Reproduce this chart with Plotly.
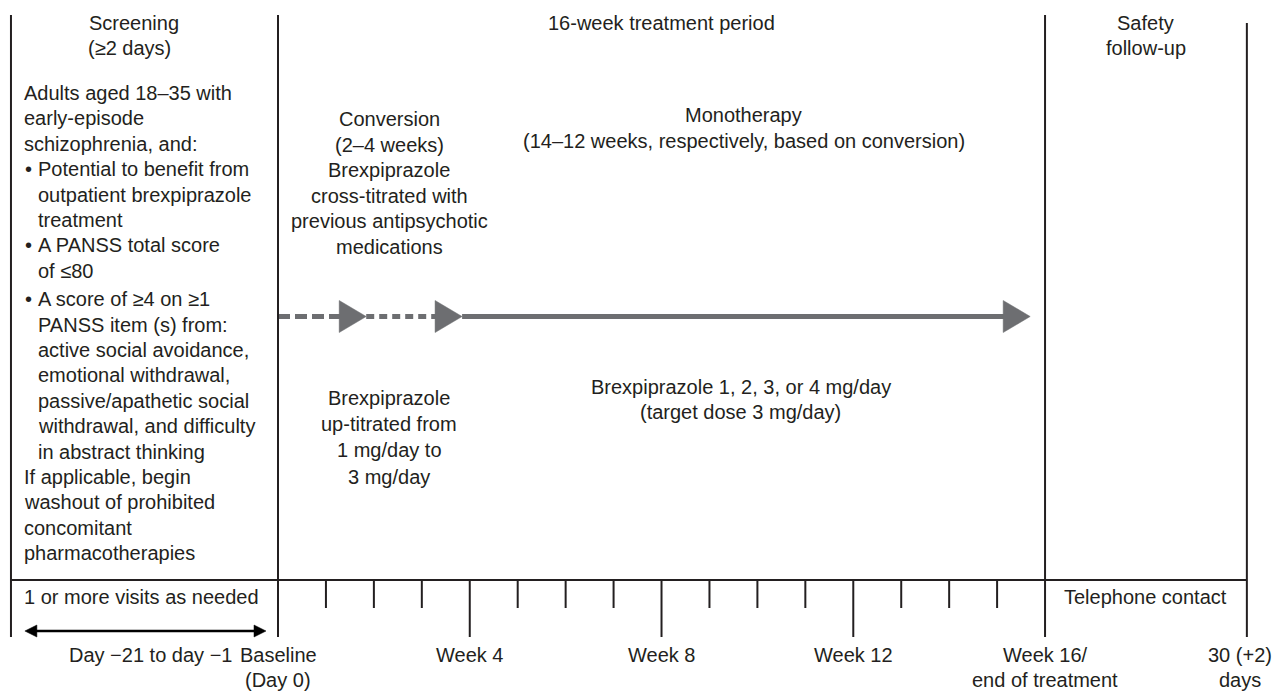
import plotly.graph_objects as go

# ---------------- data ----------------
weeks = list(range(0, 17))                 # visit grid, weeks from baseline
major_weeks = [4, 8, 12]                   # long tick marks
week_labels = {
    0: ["Baseline", "(Day 0)"],
    4: ["Week 4"],
    8: ["Week 8"],
    12: ["Week 12"],
    16: ["Week 16/", "end of treatment"],
}
screen_start = -5.57                       # left border of screening column (weeks scale)
followup_end = 20.21                       # right border (30 (+2) days)
followup_label = ["30 (+2)", "days"]

phase_titles = [
    (["Screening", "(≥2 days)"], [-3.0, -3.09]),
    (["16-week treatment period"], [8.0]),
    (["Safety", "follow-up"], [18.1, 18.1]),
]

screening_lines = [
    ("", "Adults aged 18–35 with"),
    ("", "early-episode"),
    ("", "schizophrenia, and:"),
    ("•", "Potential to benefit from"),
    ("", "outpatient brexpiprazole"),
    ("", "treatment"),
    ("•", "A PANSS total score"),
    ("", "of ≤80"),
    ("•", "A score of ≥4 on ≥1"),
    ("", "PANSS item (s) from:"),
    ("", "active social avoidance,"),
    ("", "emotional withdrawal,"),
    ("", "passive/apathetic social"),
    ("", "withdrawal, and difficulty"),
    ("", "in abstract thinking"),
    ("", "If applicable, begin"),
    ("", "washout of prohibited"),
    ("", "concomitant"),
    ("", "pharmacotherapies"),
]
indented = [False, False, False, True, True, True, True, True, True, True,
            True, True, True, True, True, False, False, False, False]

conversion_lines = ["Conversion", "(2–4 weeks)", "Brexpiprazole",
                    "cross-titrated with", "previous antipsychotic", "medications"]
monotherapy_lines = ["Monotherapy", "(14–12 weeks, respectively, based on conversion)"]
conversion_dose = ["Brexpiprazole", "up-titrated from", "1 mg/day to", "3 mg/day"]
monotherapy_dose = ["Brexpiprazole 1, 2, 3, or 4 mg/day", "(target dose 3 mg/day)"]

# arrow segments (weeks): start, end of shaft, tip, dash style
arrow_segments = [
    (0.0, 1.27, 1.84, "12px,5px"),
    (1.84, 3.27, 3.84, "8px,5px"),
    (3.84, 15.12, 15.69, "solid"),
]

screening_window = (-5.28, -0.25)
screening_window_label = "Day −21 to day −1"
screening_visits = "1 or more visits as needed"
followup_visits = "Telephone contact"

# ---------------- style ----------------
FONT = "Liberation Sans, Arial, Helvetica, sans-serif"
TXT = "#231f20"
LINE = "#231f20"
ARROW = "#6d6e71"
FS = 20
PX_PER_WEEK = 47.94
BASE_PX = 278
W, H = 1283, 693

fig = go.Figure()
shapes = []
ann = []


def vline(x, y0, y1, w=2):
    shapes.append(dict(type="line", xref="x", yref="y", x0=x, x1=x, y0=y0, y1=y1,
                       line=dict(color=LINE, width=w)))


def text(x, y, s, anchor="center"):
    ann.append(dict(x=x, y=y, xref="x", yref="y", text=s, showarrow=False,
                    xanchor=anchor, yanchor="middle",
                    font=dict(family=FONT, size=FS, color=TXT)))


# frame lines
vline(screen_start, 15, 637)
vline(0, 15, 637)
vline(16, 15, 637)
vline(followup_end, 23, 637)
shapes.append(dict(type="line", xref="x", yref="y", x0=screen_start, x1=followup_end,
                   y0=580, y1=580, line=dict(color=LINE, width=2)))

# week ticks
for wk in weeks[1:-1]:
    vline(wk, 580, 637 if wk in major_weeks else 608)

# phase titles
for lines, xs in phase_titles:
    for i, (s, xc) in enumerate(zip(lines, xs)):
        text(xc, 23 + i * 24.5, s)

# screening criteria
y = 93
for i, ((b, s), ind) in enumerate(zip(screening_lines, indented)):
    if i == 8:
        y += 3
    if b:
        text(-5.31, y, b, "left")
    text(-5.05 if ind else -5.33, y, s, "left")
    y += 25.4

# treatment texts
for i, s in enumerate(conversion_lines):
    text(2.32, 119 + i * 25.6, s)
for i, s in enumerate(monotherapy_lines):
    text(9.72, 115 + i * 26, s)
for i, s in enumerate(conversion_dose):
    text(2.32, 398 + i * 26.2, s)
for i, s in enumerate(monotherapy_dose):
    text(9.65, 387 + i * 25, s)

# arrows
head_w = 27 / PX_PER_WEEK
for x0, x1, tip, dash in arrow_segments:
    fig.add_trace(go.Scatter(x=[x0, x1 + 0.05], y=[316.5, 316.5], mode="lines",
                             line=dict(color=ARROW, width=5, dash=dash),
                             hoverinfo="skip", showlegend=False))
    fig.add_trace(go.Scatter(x=[tip - head_w, tip, tip - head_w, tip - head_w],
                             y=[300.5, 316.5, 332.5, 300.5], mode="lines",
                             fill="toself", fillcolor=ARROW, line=dict(color=ARROW, width=0.5),
                             hoverinfo="skip", showlegend=False))

# bottom band
text(-5.34, 597, screening_visits, "left")
text(18.1, 597, followup_visits)

# double arrow for screening window
a0, a1 = screening_window
hw = 12 / PX_PER_WEEK
fig.add_trace(go.Scatter(x=[a0 + hw * 0.5, a1 - hw * 0.5], y=[631, 631], mode="lines",
                         line=dict(color="#000000", width=2.5), hoverinfo="skip", showlegend=False))
for tip, d in [(a0, 1), (a1, -1)]:
    fig.add_trace(go.Scatter(x=[tip, tip + d * hw, tip + d * hw, tip],
                             y=[631, 625, 637, 631], mode="lines", fill="toself",
                             fillcolor="#000000", line=dict(color="#000000", width=0.5),
                             hoverinfo="skip", showlegend=False))
text((a0 + a1) / 2 + 0.1, 655, screening_window_label)

for wk, lines in week_labels.items():
    for i, s in enumerate(lines):
        text(wk, 655 + i * 24.5, s)
for i, s in enumerate(followup_label):
    text(followup_end - 0.15, 655 + i * 24.5, s)

x_min = (0 - BASE_PX) / PX_PER_WEEK
x_max = (W - BASE_PX) / PX_PER_WEEK
fig.update_layout(
    width=W, height=H, margin=dict(l=0, r=0, t=0, b=0),
    paper_bgcolor="white", plot_bgcolor="white",
    xaxis=dict(range=[x_min, x_max], visible=False, fixedrange=True),
    yaxis=dict(range=[H, 0], visible=False, fixedrange=True),
    shapes=shapes, annotations=ann, showlegend=False,
)
fig.write_html("out.html", config={"displayModeBar": False},
               post_script="document.body.style.margin='0px';")
